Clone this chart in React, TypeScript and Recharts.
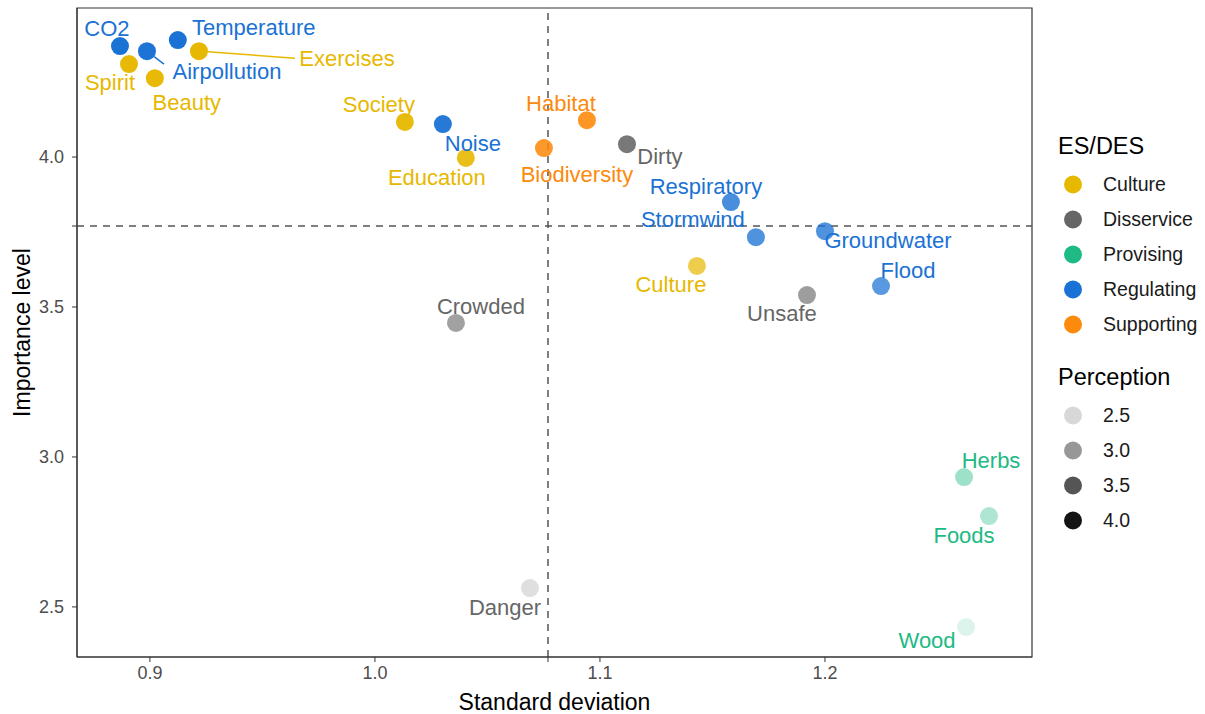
import React from "react";
import {
  ReferenceArea,
  ReferenceLine,
  Scatter,
  ScatterChart,
  XAxis,
  YAxis,
} from "recharts";

const NAMES = [
  "CO2", "Temperature", "Airpollution", "Exercises", "Spirit", "Beauty",
  "Society", "Noise", "Education", "Biodiversity", "Habitat", "Dirty",
  "Respiratory", "Stormwind", "Groundwater", "Culture", "Unsafe", "Flood",
  "Crowded", "Danger", "Herbs", "Foods", "Wood",
];
const TYPES = [
  "Regulating", "Regulating", "Regulating", "Culture", "Culture", "Culture",
  "Culture", "Regulating", "Culture", "Supporting", "Supporting", "Disservice",
  "Regulating", "Regulating", "Regulating", "Culture", "Disservice", "Regulating",
  "Disservice", "Disservice", "Provising", "Provising", "Provising",
];
const SD = [
  0.8867, 0.9124, 0.8987, 0.9218, 0.8907, 0.9022, 1.0133, 1.0302, 1.0404,
  1.0751, 1.0942, 1.112, 1.1582, 1.1693, 1.2, 1.1431, 1.192, 1.2249, 1.036,
  1.0689, 1.2618, 1.2729, 1.2627,
];
const IMPORTANCE = [
  4.37, 4.39, 4.353, 4.353, 4.31, 4.263, 4.117, 4.11, 3.997, 4.03, 4.123,
  4.043, 3.85, 3.733, 3.753, 3.637, 3.54, 3.57, 3.447, 2.563, 2.933, 2.803,
  2.433,
];
const PERCEPTION = [
  4.15, 4.15, 4.12, 4.15, 4.1, 4.1, 4.05, 4.05, 3.95, 3.9, 3.95, 3.92, 3.76,
  3.7, 3.7, 3.57, 3.45, 3.62, 3.4, 2.62, 3.05, 2.9, 2.5,
];

const ES_TYPES = ["Culture", "Disservice", "Provising", "Regulating", "Supporting"];
const PERCEPTION_BREAKS = [2.5, 3.0, 3.5, 4.0];

// cut-off lines (means)
const SD_CUT = 1.0769;
const IMP_CUT = 3.77;

const X_TICKS = [0.9, 1.0, 1.1, 1.2];
const Y_TICKS = [2.5, 3.0, 3.5, 4.0];

const COLORS: Record<string, string> = {
  Culture: "#E7B800",
  Disservice: "#666666",
  Provising: "#1DBA84",
  Regulating: "#1A72D4",
  Supporting: "#FC8A0C",
};

// label placement (text centre relative to point), like ggrepel output
const LABEL_OFFSET: Record<string, [number, number]> = {
  CO2: [-13, -18],
  Temperature: [76, -13],
  Airpollution: [80, 20],
  Exercises: [148, 7],
  Spirit: [-19, 18],
  Beauty: [32, 24],
  Society: [-26, -17],
  Noise: [30, 19],
  Education: [-29, 20],
  Biodiversity: [33, 26],
  Habitat: [-26, -17],
  Dirty: [33, 12],
  Respiratory: [-25, -16],
  Stormwind: [-63, -18],
  Groundwater: [63, 9],
  Culture: [-26, 19],
  Unsafe: [-25, 18],
  Flood: [27, -16],
  Crowded: [25, -16],
  Danger: [-25, 19],
  Herbs: [27, -17],
  Foods: [-25, 19],
  Wood: [-39, 13],
};
const SEGMENT_END: Record<string, [number, number]> = {
  Exercises: [96, 7],
  Airpollution: [17, 13],
};

const P_MIN = 2.4;
const P_MAX = 4.15;
const alphaOf = (p: number) =>
  Math.max(0.05, Math.min(1, 0.1 + (0.9 * (p - P_MIN)) / (P_MAX - P_MIN)));

const rows = NAMES.map((name, i) => ({
  name,
  type: TYPES[i],
  sd: SD[i],
  imp: IMPORTANCE[i],
  perc: PERCEPTION[i],
}));

const FONT = "'Liberation Sans', Arial, sans-serif";

function Dot(props: any) {
  const { cx, cy, payload } = props;
  if (cx == null || cy == null) return null;
  return (
    <circle
      cx={cx}
      cy={cy}
      r={9}
      fill={COLORS[payload.type]}
      fillOpacity={alphaOf(payload.perc)}
    />
  );
}

function PointLabel(props: any) {
  const { cx, cy, payload } = props;
  if (cx == null || cy == null) return null;
  const [dx, dy] = LABEL_OFFSET[payload.name] || [0, -18];
  const seg = SEGMENT_END[payload.name];
  const color = COLORS[payload.type];
  let line = null;
  if (seg) {
    const len = Math.hypot(seg[0], seg[1]);
    const sx = cx + (seg[0] / len) * 9;
    const sy = cy + (seg[1] / len) * 9;
    line = (
      <line x1={sx} y1={sy} x2={cx + seg[0]} y2={cy + seg[1]} stroke={color} strokeWidth={1.5} />
    );
  }
  return (
    <g>
      {line}
      <text
        x={cx + dx}
        y={cy + dy}
        textAnchor="middle"
        dominantBaseline="central"
        fill={color}
        fontSize={22}
        fontFamily={FONT}
      >
        {payload.name}
      </text>
    </g>
  );
}

function Legend() {
  const row = { display: "flex", alignItems: "center", height: 35 } as const;
  return (
    <div style={{ position: "absolute", left: 1058, top: 133, fontFamily: FONT }}>
      <div style={{ fontSize: 23.5, color: "#000", height: 34 }}>ES/DES</div>
      {ES_TYPES.map((t) => (
        <div key={t} style={row}>
          <svg width={45} height={35}>
            <circle cx={15} cy={17.5} r={9} fill={COLORS[t]} />
          </svg>
          <span style={{ fontSize: 19.5, color: "#1a1a1a" }}>{t}</span>
        </div>
      ))}
      <div style={{ fontSize: 23.5, color: "#000", height: 34, marginTop: 22 }}>Perception</div>
      {PERCEPTION_BREAKS.map((p) => (
        <div key={p} style={row}>
          <svg width={45} height={35}>
            <circle cx={15} cy={17.5} r={9} fill="#000" fillOpacity={alphaOf(p)} />
          </svg>
          <span style={{ fontSize: 19.5, color: "#1a1a1a" }}>{p.toFixed(1)}</span>
        </div>
      ))}
    </div>
  );
}

export default function App() {
  const tickStyle = { fill: "#4d4d4d", fontSize: 18, fontFamily: FONT };
  return (
    <div
      style={{
        position: "absolute",
        left: 0,
        top: 0,
        width: 1205,
        height: 714,
        background: "#fff",
      }}
    >
      <ScatterChart
        width={1205}
        height={714}
        margin={{ top: 8, right: 173, bottom: 0, left: 0 }}
      >
        <XAxis
          type="number"
          dataKey="sd"
          domain={[0.8676, 1.292]}
          allowDataOverflow
          ticks={[...X_TICKS, SD_CUT]}
          interval={0}
          tickFormatter={(v: number) => (v === SD_CUT ? "" : v.toFixed(1))}
          height={57}
          tick={tickStyle}
          tickSize={5}
          tickMargin={4}
          stroke="#333"
          tickLine={{ stroke: "#333" }}
          label={{
            value: "Standard deviation",
            position: "insideBottom",
            offset: 4,
            fill: "#000",
            fontSize: 23,
            fontFamily: FONT,
          }}
        />
        <YAxis
          type="number"
          dataKey="imp"
          domain={[2.333, 4.497]}
          allowDataOverflow
          ticks={[...Y_TICKS, IMP_CUT]}
          interval={0}
          tickFormatter={(v: number) => (v === IMP_CUT ? "" : v.toFixed(1))}
          width={77}
          tick={tickStyle}
          tickSize={5}
          tickMargin={8}
          stroke="#333"
          tickLine={{ stroke: "#333" }}
          label={{
            content: (p: any) => {
              const vb = p.viewBox || {};
              const x = 22;
              const y = (vb.y || 8) + (vb.height || 649) / 2;
              return (
                <text
                  x={x}
                  y={y}
                  transform={`rotate(-90 ${x} ${y})`}
                  textAnchor="middle"
                  dominantBaseline="central"
                  fill="#000"
                  fontSize={23}
                  fontFamily={FONT}
                >
                  Importance level
                </text>
              );
            },
          }}
        />
        <ReferenceArea
          x1={0.8676}
          x2={1.292}
          y1={2.333}
          y2={4.497}
          fill="none"
          stroke="#333"
          strokeWidth={1.2}
        />
        <ReferenceLine x={SD_CUT} stroke="#555" strokeDasharray="7 6" strokeWidth={1.5} />
        <ReferenceLine y={IMP_CUT} stroke="#555" strokeDasharray="7 6" strokeWidth={1.5} />
        {ES_TYPES.map((t) => (
          <Scatter
            key={t}
            name={t}
            data={rows.filter((r) => r.type === t)}
            shape={Dot}
            isAnimationActive={false}
          />
        ))}
        <Scatter
          name="labels"
          data={rows}
          shape={PointLabel}
          isAnimationActive={false}
        />
      </ScatterChart>
      <Legend />
    </div>
  );
}
